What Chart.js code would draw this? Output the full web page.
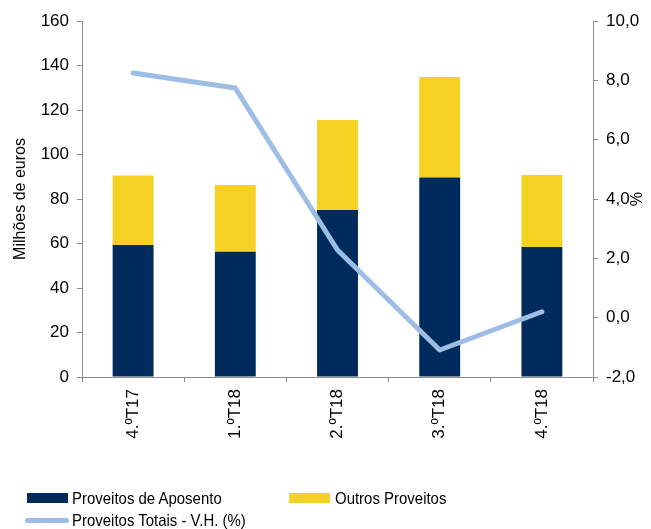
<!DOCTYPE html>
<html>
<head>
<meta charset="utf-8">
<script src="https://cdn.jsdelivr.net/npm/chart.js@4"></script>
<style>
  html, body { margin: 0; padding: 0; background: #fff; }
  #wrap { position: relative; width: 651px; height: 529px; }
  canvas { position: absolute; left: 0; top: 0; }
  .lg { position: absolute; font-family: "Liberation Sans", Arial, sans-serif; font-size: 17px; color: #000; white-space: nowrap; line-height: 18px; transform: scaleX(0.88); transform-origin: 0 50%; }
  .sw { position: absolute; }
</style>
</head>
<body>
<div id="wrap">
  <canvas id="c" width="651" height="529"></canvas>
  <div class="sw" style="left:27px; top:493px; width:41px; height:10px; background:#002b5c;"></div>
  <div class="lg" style="left:72px; top:490px;">Proveitos de Aposento</div>
  <div class="sw" style="left:289px; top:493px; width:41px; height:10px; background:#f4d123;"></div>
  <div class="lg" style="left:335px; top:490px;">Outros Proveitos</div>
  <div class="sw" style="left:25px; top:518px; width:44px; height:5px; border-radius:3px; background:#9dbde4;"></div>
  <div class="lg" style="left:72px; top:512px;">Proveitos Totais - V.H. (%)</div>
</div>
<script>
const categories = ['4.ºT17', '1.ºT18', '2.ºT18', '3.ºT18', '4.ºT18'];
const proveitosAposento = [59.3, 56.3, 75.1, 89.7, 58.4];
const outrosProveitos = [31.3, 30.0, 40.4, 45.1, 32.4];
const proveitosTotaisVH = [8.25, 7.74, 2.28, -1.09, 0.2];

const axisGray = '#8c8c8c';
const font = { family: '"Liberation Sans", Arial, sans-serif', size: 17 };

new Chart(document.getElementById('c'), {
  type: 'bar',
  data: {
    labels: categories,
    datasets: [
      {
        type: 'line',
        label: 'Proveitos Totais - V.H. (%)',
        data: proveitosTotaisVH,
        yAxisID: 'y1',
        borderColor: '#9dbde4',
        borderWidth: 5,
        pointRadius: 0,
        tension: 0,
        borderCapStyle: 'round',
        borderJoinStyle: 'round',
        order: 0
      },
      {
        label: 'Proveitos de Aposento',
        data: proveitosAposento,
        backgroundColor: '#002b5c',
        yAxisID: 'y',
        barPercentage: 0.4,
        categoryPercentage: 1,
        order: 1
      },
      {
        label: 'Outros Proveitos',
        data: outrosProveitos,
        backgroundColor: '#f4d123',
        yAxisID: 'y',
        barPercentage: 0.4,
        categoryPercentage: 1,
        order: 1
      }
    ]
  },
  options: {
    responsive: false,
    animation: false,
    layout: { padding: { top: 21, left: 0, right: 0, bottom: 0 } },
    plugins: {
      legend: { display: false },
      tooltip: { enabled: false },
      title: { display: false }
    },
    scales: {
      x: {
        stacked: true,
        grid: { display: true, drawOnChartArea: false, offset: true, color: axisGray, tickLength: 5 },
        border: { display: true, color: axisGray, width: 1 },
        ticks: { color: '#000', font: font, minRotation: 90, maxRotation: 90, padding: 7 },
        afterFit: (s) => { s.height = 152; }
      },
      y: {
        stacked: true,
        position: 'left',
        min: 0, max: 160,
        grid: { display: true, drawOnChartArea: false, color: axisGray, tickLength: 5 },
        border: { display: true, color: axisGray, width: 1 },
        ticks: { stepSize: 20, color: '#000', font: font, padding: 8 },
        title: { display: true, text: 'Milhões de euros', color: '#000', font: { family: font.family, size: 16 }, padding: { top: 11, bottom: 0 } },
        afterFit: (s) => { s.width = 82; }
      },
      y1: {
        stacked: false,
        position: 'right',
        min: -2, max: 10,
        grid: { display: true, drawOnChartArea: false, color: axisGray, tickLength: 5 },
        border: { display: true, color: axisGray, width: 1 },
        ticks: { stepSize: 2, color: '#000', font: font, padding: 8,
          callback: (v) => v.toFixed(1).replace('.', ',') },
        title: { display: true, text: '%', color: '#000', font: { family: font.family, size: 16 }, padding: { top: 7, bottom: 0 } },
        afterFit: (s) => { s.width = 58; }
      }
    }
  }
});
</script>
</body>
</html>
